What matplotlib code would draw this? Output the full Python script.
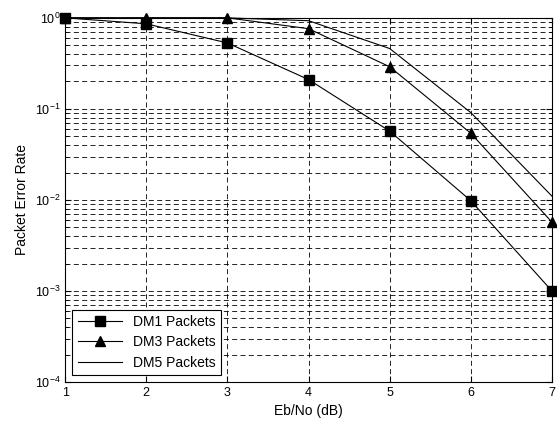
import matplotlib
matplotlib.use("Agg")
import matplotlib.pyplot as plt
from matplotlib.ticker import LogLocator, NullFormatter

plt.rcParams['font.family'] = ['Liberation Sans', 'DejaVu Sans']

ebno = [1, 2, 3, 4, 5, 6, 7]
dm1 = [1.0, 0.86, 0.53, 0.21, 0.057, 0.0098, 0.001]
dm3 = [1.0, 1.0, 1.0, 0.76, 0.29, 0.054, 0.0057]
dm5 = [1.0, 1.0, 1.0, 0.93, 0.46, 0.091, 0.011]

fig = plt.figure(figsize=(5.57, 4.25), dpi=100)
ax = fig.add_axes([0.117, 0.101, 0.874, 0.857])

ax.semilogy(ebno, dm1, color='black', lw=0.8, marker='s', ms=6.5, label='DM1 Packets', clip_on=False, zorder=3)
ax.semilogy(ebno, dm3, color='black', lw=0.8, marker='^', ms=6.5, label='DM3 Packets', clip_on=False, zorder=3)
ax.semilogy(ebno, dm5, color='black', lw=0.8, label='DM5 Packets', clip_on=False, zorder=3)

ax.set_xlim(1, 7)
ax.set_ylim(1e-4, 1)
ax.set_xticks(ebno)
ax.yaxis.set_major_locator(LogLocator(base=10, numticks=10))
ax.yaxis.set_minor_locator(LogLocator(base=10, subs=range(2, 10), numticks=10))
ax.yaxis.set_minor_formatter(NullFormatter())

dash = (0, (6, 4))
ax.grid(True, which='major', color='black', ls=dash, lw=0.6)
ax.grid(True, which='minor', axis='y', color='black', ls=dash, lw=0.6)

ax.tick_params(which='both', direction='in', top=True, right=True, labelsize=9)
ax.tick_params(which='major', length=4)
ax.tick_params(which='minor', length=2)
for s in ax.spines.values():
    s.set_linewidth(0.8)

ax.set_xlabel('Eb/No (dB)', fontsize=10)
ax.set_ylabel('Packet Error Rate', fontsize=10)

leg = ax.legend(loc='lower left', fontsize=10, fancybox=False, framealpha=1,
                edgecolor='black', borderaxespad=0.5, handlelength=3.2,
                labelspacing=0.45)
leg.get_frame().set_linewidth(0.8)

fig.savefig('out.png', dpi=100)
